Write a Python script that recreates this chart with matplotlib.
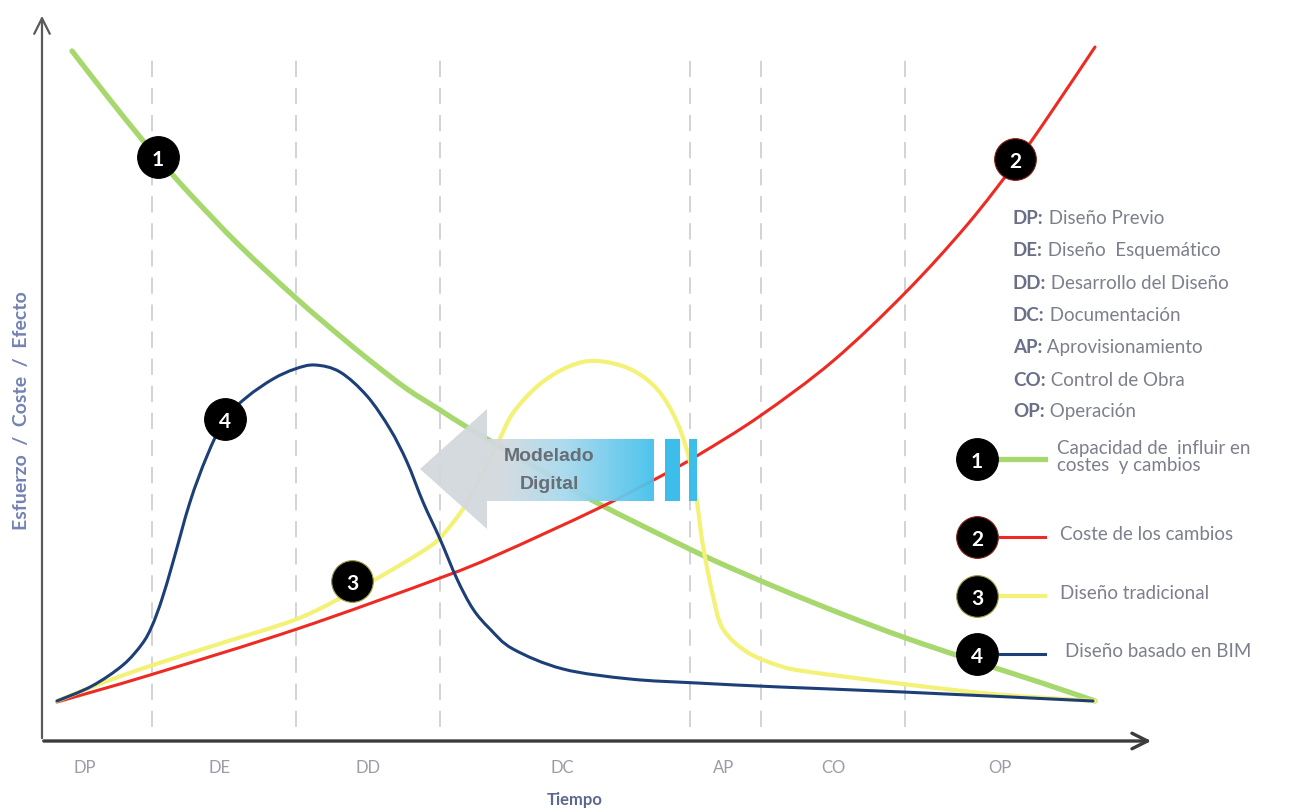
import numpy as np
import matplotlib.pyplot as plt
from matplotlib.patches import Polygon, Rectangle, PathPatch
from matplotlib.path import Path
from matplotlib.colors import LinearSegmentedColormap

plt.rcParams['font.family'] = ['Lato', 'DejaVu Sans']

# curves: x = tiempo, y = esfuerzo / coste / efecto (origin at the axis corner)
green_x = [30, 65, 98, 116, 148, 198, 255, 298, 331, 365, 398, 428, 480, 520, 561, 621, 671, 738, 800, 861, 935, 1000, 1053]
green_y = [690, 645, 604, 583, 547, 495, 442, 405, 378, 352, 331, 312, 282, 258, 235, 205, 181, 152, 127, 104, 79, 58, 40]

red_x = [15, 108, 255, 398, 455, 555, 621, 658, 718, 791, 863, 925, 975, 1008, 1053]
red_y = [39, 66, 112, 163, 186, 232, 266, 287, 325, 380, 448, 516, 580, 627, 694]

yellow_x = [15, 60, 108, 180, 255, 310, 348, 381, 398, 421, 438, 455, 471, 498, 528, 555, 588, 615, 635, 648,
            655, 661, 671, 681, 705, 738, 768, 861, 951, 1053]
yellow_y = [40, 58, 75, 98, 122, 149, 170, 190, 203, 232, 262, 296, 328, 357, 375, 380, 372, 352, 319, 279,
            239, 195, 145, 112, 89, 75, 69, 57, 47, 40]

blue_x = [15, 50, 81, 100, 110, 120, 131, 148, 165, 183, 205, 231, 253, 273, 298, 325, 348, 365, 381, 398,
          415, 431, 448, 471, 521, 588, 655, 738, 861, 1051]
blue_y = [40, 55, 76, 97, 115, 142, 179, 239, 285, 322, 344, 362, 372, 376, 369, 345, 312, 279, 239, 202,
          162, 132, 112, 92, 72, 62, 58, 54, 49, 40]

phase_bounds = [110, 254, 398, 648, 719, 863]
phase_labels = ['DP', 'DE', 'DD', 'DC', 'AP', 'CO', 'OP']
phase_label_x = [43, 178, 326, 520, 682, 791, 958]

phase_abbr = ['DP:', 'DE:', 'DD:', 'DC:', 'AP:', 'CO:', 'OP:']
phase_names = [' Diseño Previo', ' Diseño  Esquemático', ' Desarrollo del Diseño', ' Documentación',
               ' Aprovisionamiento', ' Control de Obra', ' Operación']

series_labels = ['Capacidad de  influir en\ncostes  y cambios', 'Coste de los cambios',
                 'Diseño tradicional', 'Diseño basado en BIM']
colors = ['#a6d86e', '#ee2a22', '#f3f277', '#1d3f78']
widths = [3.8, 2.2, 3.0, 2.2]

# where the numbered badges sit on each curve
badge_x = [116, 973, 310, 183]
badge_y = [584, 582, 160, 322]
badge_edge = ['black', '#8a1d18', '#9a9a40', 'black']


def smooth_path(xs, ys):
    # bezier path passing through the read points (catmull-rom tangents)
    p = np.column_stack([xs, ys]).astype(float)
    verts = [p[0]]
    codes = [Path.MOVETO]
    for i in range(len(p) - 1):
        a = p[i - 1] if i > 0 else p[i]
        d = p[i + 2] if i + 2 < len(p) else p[i + 1]
        b, c = p[i], p[i + 1]
        verts += [b + (c - a) / 6, c - (d - b) / 6, c]
        codes += [Path.CURVE4] * 3
    return Path(verts, codes)


fig = plt.figure(figsize=(13.01, 8.12), dpi=100)
ax = fig.add_axes([0, 0, 1, 1])
ax.set_xlim(-42, 1259)
ax.set_ylim(-70, 742)
ax.axis('off')

# phase separators
for xb in phase_bounds:
    ax.plot([xb, xb], [14, 690], color='#cfcfd4', lw=1.3, dashes=(9, 6), zorder=1)

# axes with arrow heads
ax.annotate('', xy=(0, 728), xytext=(0, 0),
            arrowprops=dict(arrowstyle='->', color='#5a5a5a', lw=1.6, mutation_scale=28), zorder=2)
ax.annotate('', xy=(1112, 0), xytext=(-1, 0),
            arrowprops=dict(arrowstyle='->', color='#3c3c3c', lw=2.4, mutation_scale=28), zorder=2)

# curves
for xs, ys, c, w in zip([green_x, red_x, yellow_x, blue_x], [green_y, red_y, yellow_y, blue_y], colors, widths):
    ax.add_patch(PathPatch(smooth_path(xs, ys), fc='none', ec=c, lw=w, capstyle='round',
                           joinstyle='round', zorder=3))

# numbered badges on the curves
for i in range(4):
    ax.scatter(badge_x[i], badge_y[i], s=900, color='black', edgecolors=badge_edge[i], linewidths=0.8, zorder=6)
    ax.text(badge_x[i], badge_y[i], str(i + 1), color='white', fontsize=15, fontweight='bold',
            ha='center', va='center_baseline', zorder=7)

# "Modelado Digital" arrow
arrow = Polygon([(378, 272), (445, 332), (445, 302), (612, 302), (612, 240), (445, 240), (445, 212)],
                closed=True, fc='none', ec='none', zorder=5)
ax.add_patch(arrow)
cmap = LinearSegmentedColormap.from_list('md', [(0, '#d4d8dd'), (0.35, '#d3d9df'), (0.62, '#a7d9ee'), (1, '#45c1ec')])
grad = np.linspace(0, 1, 256).reshape(1, -1)
im = ax.imshow(grad, cmap=cmap, extent=(378, 612, 212, 332), aspect='auto', zorder=5,
               interpolation='bilinear', alpha=0.95)
im.set_clip_path(arrow)
ax.add_patch(Rectangle((623, 240), 15, 62, fc='#3dbde9', ec='none', zorder=5))
ax.add_patch(Rectangle((647, 240), 8, 62, fc='#3dbde9', ec='none', zorder=5))
ax.text(507, 285, 'Modelado', fontsize=14, fontweight='bold', color='#686d76', ha='center', va='center',
        family=['Liberation Sans', 'DejaVu Sans'], zorder=6)
ax.text(507, 257, 'Digital', fontsize=14, fontweight='bold', color='#686d76', ha='center', va='center',
        family=['Liberation Sans', 'DejaVu Sans'], zorder=6)
ax.set_xlim(-42, 1259)
ax.set_ylim(-70, 742)

# x tick labels and axis titles
for lx, lab in zip(phase_label_x, phase_labels):
    ax.text(lx, -26, lab, fontsize=12, color='#9a9ca6', ha='center', va='center')
ax.text(533, -58, 'Tiempo', fontsize=12, fontweight='bold', color='#5d688e', ha='center', va='center')
ax.text(-20, 331, 'Esfuerzo  /  Coste  /  Efecto', fontsize=14, fontweight='bold', color='#7482b4',
        rotation=90, ha='center', va='center')

# phase legend
phase_y = [524, 491, 458, 426, 394, 361, 330]
for py_, ab, nm in zip(phase_y, phase_abbr, phase_names):
    t = ax.text(971, py_, ab, fontsize=13.5, fontweight='bold', color='#6a6f88', ha='left', va='center')
    ax.annotate(nm, xy=(1, 0), xycoords=t, fontsize=13.5, color='#7d808c', ha='left', va='bottom')

# series legend
leg_y = [282, 204, 145, 87]
leg_text_x = [1015, 1018, 1018, 1023]
for i in range(4):
    ax.plot([958, 1003], [leg_y[i], leg_y[i]], color=colors[i], lw=widths[i], zorder=4)
    ax.scatter(935, leg_y[i], s=900, color='black', edgecolors=badge_edge[i], linewidths=0.8, zorder=6)
    ax.text(935, leg_y[i], str(i + 1), color='white', fontsize=15, fontweight='bold',
            ha='center', va='center_baseline', zorder=7)
    ax.text(leg_text_x[i], leg_y[i] + 3, series_labels[i], fontsize=13.5, color='#7d808c',
            ha='left', va='center', linespacing=0.95)

fig.savefig('out.png', dpi=100)
